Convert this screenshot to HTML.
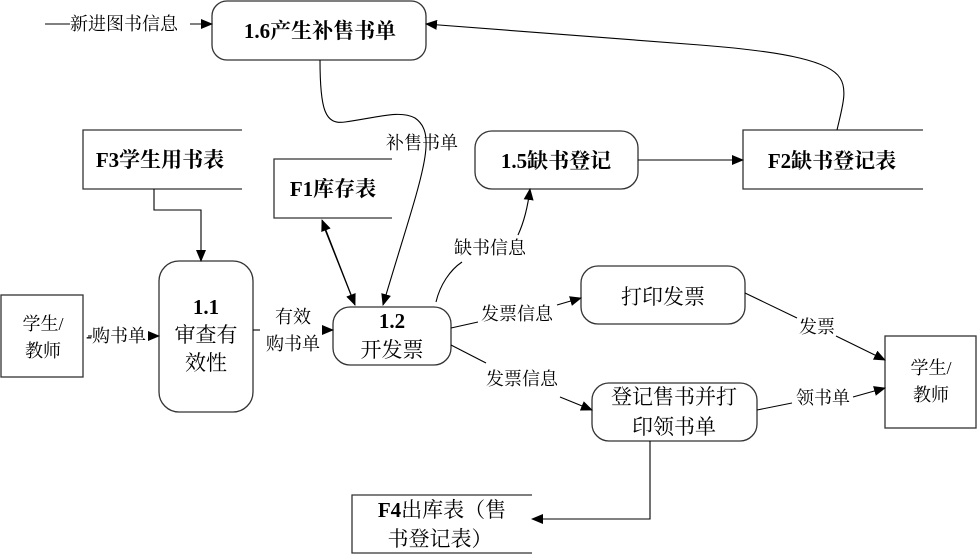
<!DOCTYPE html>
<html><head><meta charset="utf-8"><style>
html,body{margin:0;padding:0;background:#fff;}
svg{display:block;}
text{font-family:"Liberation Serif","Noto Serif CJK SC","Noto Sans CJK SC",serif;fill:#000;}
.b{font-weight:bold;}
</style></head><body>
<svg width="978" height="556" viewBox="0 0 978 556" xmlns="http://www.w3.org/2000/svg">
<defs><marker id="a" markerWidth="12" markerHeight="10" refX="11" refY="5" orient="auto" markerUnits="userSpaceOnUse"><path d="M0,0 L12,5 L0,10 Z" fill="#000"/></marker></defs>
<g fill="none" stroke="#333" stroke-width="1.3">
<rect x="212" y="1" width="214" height="59" rx="15"/>
<rect x="159" y="261" width="94" height="151" rx="20"/>
<rect x="333" y="307" width="118" height="58" rx="17"/>
<rect x="475" y="131" width="163" height="58" rx="17"/>
<rect x="581" y="266" width="164" height="58" rx="17"/>
<rect x="592" y="383" width="165" height="58" rx="17"/>
<rect x="1" y="295" width="82" height="82"/>
<rect x="885" y="336" width="91" height="92"/>
<path d="M242,130 H83 V189 H242"/>
<path d="M392,159 H274 V218 H392"/>
<path d="M923,130 H743 V189 H923"/>
<path d="M532,495 H352 V553 H532"/>
</g>
<g fill="none" stroke="#000" stroke-width="1.1">
<path d="M45,24 H70"/><path d="M190,24 H212" marker-end="url(#a)"/>
<path d="M837,130 C842,108 848,90 840,78 C830,62 790,52 700,45 L426,24" marker-end="url(#a)"/>
<path d="M154,189 V210 H201 V261" marker-end="url(#a)"/>
<path d="M88,336 H92"/><path d="M153,336 H159" marker-end="url(#a)"/>
<path d="M253,330 H260"/><path d="M325,330 H333" marker-end="url(#a)"/>
<path d="M355,305 L322,220" marker-end="url(#a)"/>
<path d="M322,222 L355,305" marker-end="url(#a)"/>
<path d="M320,60 C320,110 325,125 345,122 C380,117 400,110 415,118 C440,135 420,180 383,305" marker-end="url(#a)"/>
<path d="M436,302 C440,285 450,270 462,262"/>
<path d="M518,235 C525,220 528,205 530,189" marker-end="url(#a)"/>
<path d="M638,160 H743" marker-end="url(#a)"/>
<path d="M451,328 L478,322"/><path d="M557,305 L581,298" marker-end="url(#a)"/>
<path d="M451,345 L486,363"/><path d="M560,397 L592,410" marker-end="url(#a)"/>
<path d="M745,293 L797,318"/><path d="M836,336 L885,360" marker-end="url(#a)"/>
<path d="M757,410 L792,403"/><path d="M853,397 L885,388" marker-end="url(#a)"/>
<path d="M650,441 V519 H532" marker-end="url(#a)"/>
</g>
<g font-size="18">
<text x="70" y="30">新进图书信息</text>
<text x="86" y="342">-购书单</text>
<text x="293" y="323" text-anchor="middle">有效</text>
<text x="293" y="350" text-anchor="middle">购书单</text>
<text x="422" y="149" text-anchor="middle">补售书单</text>
<text x="490" y="254" text-anchor="middle">缺书信息</text>
<text x="517" y="320" text-anchor="middle">发票信息</text>
<text x="522" y="385" text-anchor="middle">发票信息</text>
<text x="817" y="333" text-anchor="middle">发票</text>
<text x="823" y="404" text-anchor="middle">领书单</text>
<text x="43" y="330" text-anchor="middle">学生/</text>
<text x="43" y="357" text-anchor="middle">教师</text>
<text x="931" y="374" text-anchor="middle">学生/</text>
<text x="931" y="401" text-anchor="middle">教师</text>
</g>
<g font-size="21">
<text x="320" y="38" text-anchor="middle" class="b">1.6产生补售书单</text>
<text x="160" y="167" text-anchor="middle" class="b">F3学生用书表</text>
<text x="333" y="196" text-anchor="middle" class="b">F1库存表</text>
<text x="556" y="168" text-anchor="middle" class="b">1.5缺书登记</text>
<text x="832" y="168" text-anchor="middle" class="b">F2缺书登记表</text>
<text x="206" y="314" text-anchor="middle" class="b">1.1</text>
<text x="206" y="342" text-anchor="middle">审查有</text>
<text x="206" y="370" text-anchor="middle">效性</text>
<text x="392" y="328" text-anchor="middle" class="b">1.2</text>
<text x="392" y="357" text-anchor="middle">开发票</text>
<text x="663" y="304" text-anchor="middle">打印发票</text>
<text x="674" y="404" text-anchor="middle">登记售书并打</text>
<text x="674" y="434" text-anchor="middle">印领书单</text>
<text x="442" y="517" text-anchor="middle"><tspan class="b">F4</tspan>出库表（售</text>
<text x="440" y="546" text-anchor="middle">书登记表）</text>
</g>
</svg>
</body></html>
